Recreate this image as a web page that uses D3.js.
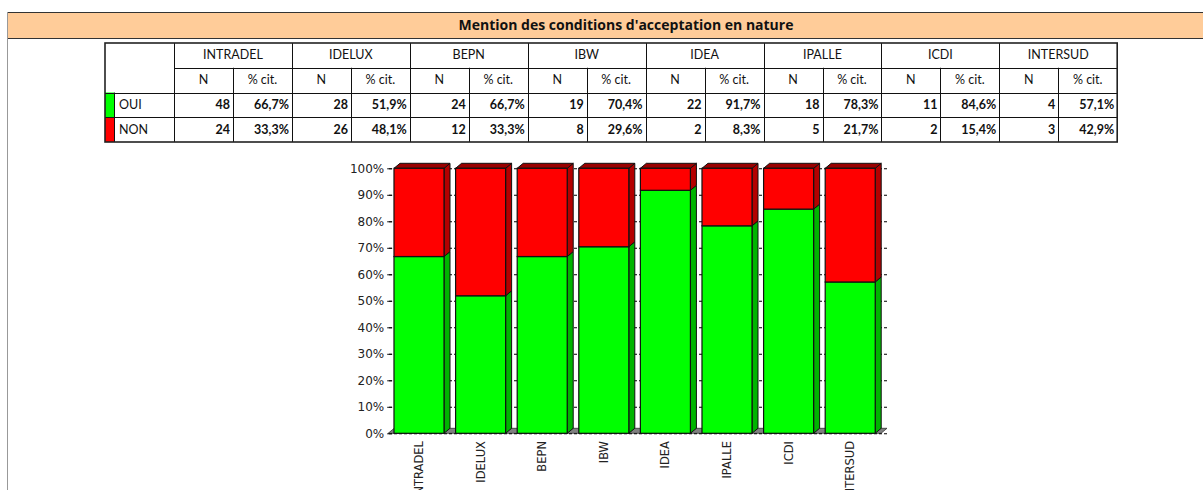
<!DOCTYPE html>
<html>
  <head>
    <meta charset="utf-8">
    <title>Mention des conditions d'acceptation en nature</title>
    <script src="https://cdnjs.cloudflare.com/ajax/libs/d3/7.8.5/d3.min.js"></script>
    <style>
      body { margin: 0; background: #fff; }
    </style>
  </head>
  <body>

    <script>
      // data
      var title = "Mention des conditions d'acceptation en nature";
      var categories = ["INTRADEL", "IDELUX", "BEPN", "IBW", "IDEA", "IPALLE", "ICDI", "INTERSUD"];
      var rowLabels = ["OUI", "NON"];
      var ouiN   = [48, 28, 24, 19, 22, 18, 11, 4];
      var ouiPct = [66.7, 51.9, 66.7, 70.4, 91.7, 78.3, 84.6, 57.1];
      var nonN   = [24, 26, 12, 8, 2, 5, 2, 3];
      var nonPct = [33.3, 48.1, 33.3, 29.6, 8.3, 21.7, 15.4, 42.9];
      var yTicks = [0, 10, 20, 30, 40, 50, 60, 70, 80, 90, 100];

      var colors = {
        oui: { front: "#00ff00", side: "#00b400", top: "#009900" },
        non: { front: "#ff0000", side: "#b40000", top: "#990000" }
      };

      var W = 1203, H = 490;
      var svg = d3.select("body").append("svg")
        .attr("width", W)
        .attr("height", H);

      var fmt = function (v) { return v.toFixed(1).replace(".", ",") + "%"; };
      var tableFont = "Lato, 'Open Sans', sans-serif";
      var axisFont = "'DejaVu Sans', Verdana, sans-serif";

      // title band
      svg.append("rect")
        .attr("x", 7).attr("y", 12)
        .attr("width", W - 7).attr("height", 26)
        .attr("fill", "#ffcc99");
      svg.append("line").attr("x1", 7).attr("x2", W).attr("y1", 12.5).attr("y2", 12.5)
        .attr("stroke", "#333");
      svg.append("line").attr("x1", 7).attr("x2", W).attr("y1", 38.5).attr("y2", 38.5)
        .attr("stroke", "#333");
      svg.append("line").attr("x1", 7.5).attr("x2", 7.5).attr("y1", 12).attr("y2", H)
        .attr("stroke", "#999");
      svg.append("text")
        .attr("x", 626).attr("y", 30)
        .attr("text-anchor", "middle")
        .attr("font-family", "'Open Sans', Lato, sans-serif")
        .attr("font-weight", "bold")
        .attr("font-size", 14)
        .attr("fill", "#111")
        .text(title);

      // table
      var tLeft = 105, tTop = 43, rowH = 24.75, labelW = 69, swatchW = 9;
      var groupW = 117.9, subW = 59;
      var tRight = tLeft + labelW + categories.length * groupW;
      var table = svg.append("g");

      var rowsData = [
        { label: rowLabels[0], n: ouiN, pct: ouiPct, color: colors.oui.front },
        { label: rowLabels[1], n: nonN, pct: nonPct, color: colors.non.front }
      ];

      // swatches
      table.selectAll("rect.sw").data(rowsData).enter().append("rect")
        .attr("class", "sw")
        .attr("x", tLeft).attr("y", function (d, i) { return tTop + (2 + i) * rowH; })
        .attr("width", swatchW).attr("height", rowH)
        .attr("fill", function (d) { return d.color; });

      table.selectAll("text.rl").data(rowsData).enter().append("text")
        .attr("class", "rl")
        .attr("x", tLeft + swatchW + 5)
        .attr("y", function (d, i) { return tTop + (2 + i) * rowH + rowH / 2 + 4; })
        .attr("font-family", tableFont).attr("font-size", 12.5).attr("fill", "#111")
        .text(function (d) { return d.label; });

      var groups = table.selectAll("g.grp").data(categories).enter().append("g")
        .attr("class", "grp")
        .attr("transform", function (d, i) { return "translate(" + (tLeft + labelW + i * groupW) + ",0)"; });

      groups.append("text")
        .attr("x", groupW / 2).attr("y", tTop + rowH / 2 + 4)
        .attr("text-anchor", "middle")
        .attr("font-family", tableFont).attr("font-size", 12.5).attr("fill", "#111")
        .text(function (d) { return d; });
      groups.append("text")
        .attr("x", subW / 2).attr("y", tTop + rowH * 1.5 + 4)
        .attr("text-anchor", "middle")
        .attr("font-family", tableFont).attr("font-size", 12.5).attr("fill", "#111")
        .text("N");
      groups.append("text")
        .attr("x", subW + (groupW - subW) / 2).attr("y", tTop + rowH * 1.5 + 4)
        .attr("text-anchor", "middle")
        .attr("font-family", tableFont).attr("font-size", 12.5).attr("fill", "#111")
        .text("% cit.");

      rowsData.forEach(function (r, ri) {
        var ty = tTop + (2 + ri) * rowH + rowH / 2 + 4;
        groups.append("text")
          .attr("x", subW - 3).attr("y", ty)
          .attr("text-anchor", "end")
          .attr("font-family", tableFont).attr("font-size", 12.5).attr("font-weight", "bold").attr("fill", "#111")
          .text(function (d, i) { return r.n[i]; });
        groups.append("text")
          .attr("x", groupW - 3).attr("y", ty)
          .attr("text-anchor", "end")
          .attr("font-family", tableFont).attr("font-size", 12.5).attr("font-weight", "bold").attr("fill", "#111")
          .text(function (d, i) { return fmt(r.pct[i]); });
      });

      // grid lines of the table
      var tl = table.append("g").attr("stroke", "#111").attr("stroke-width", 1).attr("fill", "none");
      [1, 2, 3].forEach(function (k) {
        var y = Math.round(tTop + k * rowH) + 0.5;
        tl.append("line")
          .attr("x1", k === 1 ? tLeft + labelW : tLeft).attr("x2", tRight)
          .attr("y1", y).attr("y2", y);
      });
      tl.append("line")
        .attr("x1", tLeft + swatchW + 0.5).attr("x2", tLeft + swatchW + 0.5)
        .attr("y1", tTop + 2 * rowH).attr("y2", tTop + 4 * rowH);
      categories.forEach(function (c, i) {
        var gx = Math.round(tLeft + labelW + i * groupW) + 0.5;
        tl.append("line").attr("x1", gx).attr("x2", gx).attr("y1", tTop).attr("y2", tTop + 4 * rowH);
        var sx = Math.round(tLeft + labelW + i * groupW + subW) + 0.5;
        tl.append("line").attr("x1", sx).attr("x2", sx).attr("y1", tTop + rowH).attr("y2", tTop + 4 * rowH);
      });
      tl.append("rect")
        .attr("x", tLeft).attr("y", tTop)
        .attr("width", tRight - tLeft).attr("height", 4 * rowH)
        .attr("stroke-width", 1.6).attr("stroke", "#222");

      // chart
      var dx = 6, dy = 5;
      var x = d3.scaleBand()
        .domain(categories)
        .range([388.2, 881])
        .paddingInner(0.188)
        .paddingOuter(0.094);
      var y = d3.scaleLinear().domain([0, 100]).range([433.3, 168.3]);

      var x0 = x.range()[0], x1 = x.range()[1];

      // floor
      svg.append("path")
        .attr("d", d3.line()([[x0, y(0)], [x1, y(0)], [x1 + dx, y(0) - dy], [x0 + dx, y(0) - dy]]) + "Z")
        .attr("fill", "#808080")
        .attr("stroke", "#333")
        .attr("stroke-width", 0.8);

      // grid lines
      var grid = svg.append("g")
        .attr("transform", "translate(" + (x1 + dx) + ",0)")
        .call(d3.axisLeft(y).tickValues(yTicks).tickSize(x1 + dx - x0).tickFormat(""));
      grid.select(".domain").remove();
      grid.selectAll(".tick line")
        .attr("stroke", "#000")
        .attr("stroke-width", 1.1)
        .attr("stroke-dasharray", "3,2");

      // y axis
      var yAxis = svg.append("g")
        .attr("transform", "translate(" + (x0 + 4) + ",0)")
        .call(d3.axisLeft(y).tickValues(yTicks).tickSize(5).tickPadding(3)
          .tickFormat(function (d) { return d + "%"; }));
      yAxis.select(".domain").remove();
      yAxis.selectAll(".tick line").attr("stroke", "#111");
      yAxis.selectAll(".tick text")
        .attr("font-family", axisFont)
        .attr("font-size", 12)
        .attr("fill", "#222");

      // stacked 3D bars
      var stacks = categories.map(function (c, i) {
        return [
          { cat: c, y0: 0, y1: ouiPct[i], col: colors.oui, last: false },
          { cat: c, y0: ouiPct[i], y1: 100, col: colors.non, last: true }
        ];
      });

      var bars = svg.append("g");
      stacks.forEach(function (segs) {
        var g = bars.append("g");
        segs.forEach(function (s) {
          var bx = x(s.cat), bw = x.bandwidth();
          var yt = y(s.y1), yb = y(s.y0);
          g.append("path")
            .attr("d", d3.line()([[bx + bw, yt], [bx + bw + dx, yt - dy], [bx + bw + dx, yb - dy], [bx + bw, yb]]) + "Z")
            .attr("fill", s.col.side).attr("stroke", "#111").attr("stroke-width", 1);
          if (s.last) {
            g.append("path")
              .attr("d", d3.line()([[bx, yt], [bx + dx, yt - dy], [bx + bw + dx, yt - dy], [bx + bw, yt]]) + "Z")
              .attr("fill", s.col.top).attr("stroke", "#111").attr("stroke-width", 1);
          }
          g.append("rect")
            .attr("x", bx).attr("y", yt)
            .attr("width", bw).attr("height", yb - yt)
            .attr("fill", s.col.front).attr("stroke", "#111").attr("stroke-width", 1.2);
        });
      });

      // category labels (the long ones run off the bottom edge, as in the original)
      svg.append("g").selectAll("text").data(categories).enter().append("text")
        .attr("transform", function (d) { return "translate(" + (x(d) + x.bandwidth() / 2 + 4) + ",441) rotate(-90)"; })
        .attr("text-anchor", "end")
        .attr("font-family", axisFont)
        .attr("font-size", 11.5)
        .attr("fill", "#222")
        .text(function (d) { return d; });
    </script>

  </body>
</html>
